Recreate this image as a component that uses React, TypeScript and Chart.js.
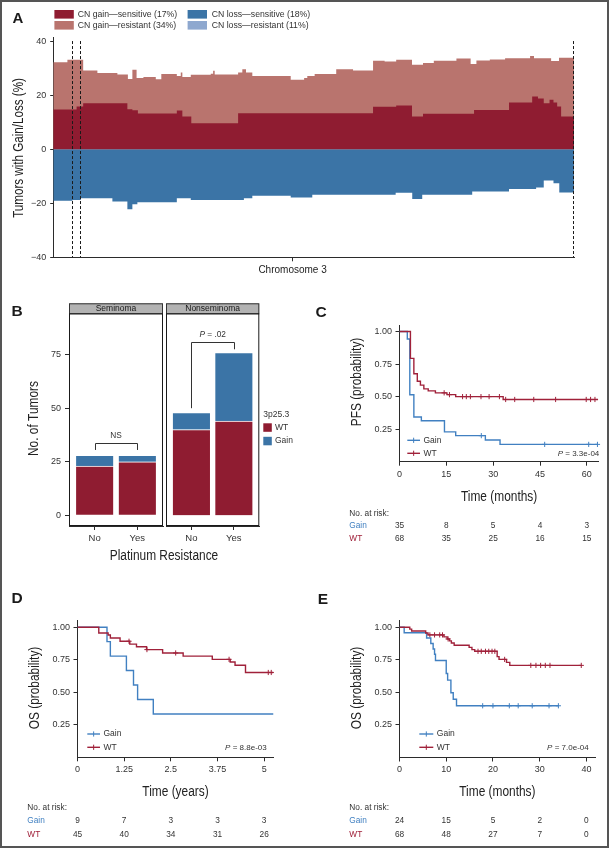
import React, { useEffect, useRef } from "react";
import { Chart, registerables } from "chart.js";

Chart.register(...registerables);

const FONT = "'Liberation Sans', Arial, Helvetica, sans-serif";
const AXIS = "#2b2b2b";
const TXT = "#333333";
const RED = "#8F1C31";
const RED_LIGHT = "#B9746E";
const BLUE = "#3B74A6";
const BLUE_LIGHT = "#8EA8CF";
const KM_RED = "#A0213A";
const KM_BLUE = "#4180C1";

// ================= Panel A: CN gain/loss along chromosome 3 =================
const chr3LengthMb = 198;
const centromereMb = 91;
const dashedMarkersMb = [7.4, 10.5, 198];
const yTicksA = [-40, -20, 0, 20, 40];
const gainTotalPosMb = [0, 5.4, 11.4, 16.8, 24.4, 28.4, 30.1, 31.7, 34.3, 39.0, 41.1, 47.0, 48.5, 49.1, 52.3, 59.9, 60.8, 61.4, 70.3, 71.9, 73.3, 75.7, 90.3, 95.4, 96.6, 99.4, 107.6, 114.0, 121.6, 126.0, 130.4, 136.4, 140.6, 144.7, 153.3, 158.7, 160.9, 166.0, 171.8, 181.3, 182.8, 189.3, 192.3, 198];
const gainTotalPct = [32.2, 33.1, 29.1, 28.2, 27.6, 26.0, 29.4, 26.3, 26.7, 25.9, 27.8, 27.1, 28.4, 26.7, 27.5, 27.9, 29.0, 27.6, 28.4, 29.6, 28.4, 27.1, 25.7, 26.3, 27.1, 27.8, 29.6, 29.1, 32.7, 32.4, 33.1, 31.2, 31.9, 32.7, 33.5, 31.5, 32.8, 33.2, 33.6, 34.5, 33.6, 32.6, 33.8, 33.8];
const gainSensPosMb = [0, 8.9, 11.4, 28.2, 30.1, 32.2, 47.0, 49.1, 52.5, 70.3, 121.6, 130.4, 136.4, 140.6, 160.0, 173.3, 182.1, 184.3, 186.5, 188.7, 190.2, 191.6, 193.1, 198];
const gainSensPct = [14.7, 15.8, 17.0, 14.8, 14.4, 13.2, 14.3, 12.1, 9.6, 13.3, 15.7, 16.2, 12.1, 13.1, 14.5, 17.3, 19.5, 18.7, 17.0, 18.3, 17.3, 15.8, 12.1, 12.1];
const lossPosMb = [0, 7.3, 10.5, 22.5, 28.2, 30.1, 32.0, 47.0, 52.3, 72.5, 75.7, 90.3, 98.5, 130.2, 136.5, 140.3, 159.3, 173.3, 183.6, 186.5, 190.2, 192.4, 198];
const lossSensPct = [-19.1, -18.8, -18.2, -19.4, -22.2, -20.4, -19.6, -18.2, -18.8, -18.2, -17.2, -17.9, -16.9, -16.1, -18.4, -16.9, -15.7, -14.7, -14.2, -11.6, -12.6, -16.0, -16.0];
const legendALabels = ["CN gain—sensitive (17%)", "CN gain—resistant (34%)", "CN loss—sensitive (18%)", "CN loss—resistant (11%)"];
const legendAColors = [RED, RED_LIGHT, BLUE, BLUE_LIGHT];

// ================= Panel B: tumors by platinum resistance =================
const resistance = ["No", "Yes"];
const seminomaWT = [23, 25];
const seminomaGain = [5, 3];
const nonseminomaWT = [40, 44];
const nonseminomaGain = [8, 32];
const yTicksB = [0, 25, 50, 75];
const nsBracket = { label: "NS", top: 33.9, left: 30.5, right: 30.5, text: 37.0 };
const pBracket = { label: "= .02", top: 80.9, left: 50.0, right: 77.5, text: 84.3 };

// ================= Panel C: PFS (months) =================
const pfsTicks = [0, 15, 30, 45, 60];
const pfsGainTime = [0, 2.5, 3.3, 4.6, 7.0, 14.4, 18.0, 27.5, 32.2, 63.6];
const pfsGainSurv = [1, 0.943, 0.514, 0.343, 0.314, 0.229, 0.2, 0.167, 0.133, 0.133];
const pfsGainCensor = [26.2, 46.5, 60.6, 63.4];
const pfsWtTime = [0, 3.5, 4.6, 5.7, 6.7, 7.8, 9.2, 11.5, 15.2, 18.0, 33.2, 63.6];
const pfsWtSurv = [1, 0.794, 0.676, 0.618, 0.588, 0.559, 0.544, 0.529, 0.515, 0.5, 0.478, 0.478];
const pfsWtCensor = [14.3, 16.0, 20.2, 21.4, 22.7, 26.1, 28.7, 32.0, 34.0, 36.9, 43.0, 50.0, 59.8, 61.2, 62.6];
const pfsRiskGain = [35, 8, 5, 4, 3];
const pfsRiskWt = [68, 35, 25, 16, 15];

// ================= Panel D: OS (years) =================
const osYTicks = [0, 1.25, 2.5, 3.75, 5];
const osYGainTime = [0, 0.79, 0.88, 1.31, 1.5, 1.61, 2.03, 5.25];
const osYGainSurv = [1, 0.889, 0.778, 0.667, 0.556, 0.444, 0.333, 0.333];
const osYGainCensor: number[] = [];
const osYWtTime = [0, 0.57, 0.82, 0.88, 1.14, 1.4, 1.58, 1.85, 2.28, 2.83, 3.61, 4.09, 4.22, 4.5, 5.25];
const osYWtSurv = [1, 0.956, 0.94, 0.917, 0.892, 0.87, 0.85, 0.828, 0.802, 0.778, 0.753, 0.732, 0.707, 0.652, 0.652];
const osYWtCensor = [1.38, 1.86, 2.63, 4.06, 5.11, 5.19];
const osYRiskGain = [9, 7, 3, 3, 3];
const osYRiskWt = [45, 40, 34, 31, 26];

// ================= Panel E: OS (months) =================
const osMTicks = [0, 10, 20, 30, 40];
const osMGainTime = [0, 1.0, 5.8, 6.7, 7.2, 7.5, 7.7, 10.0, 10.3, 11.0, 11.5, 12.2, 34.0];
const osMGainSurv = [1, 0.958, 0.917, 0.875, 0.833, 0.792, 0.745, 0.645, 0.594, 0.497, 0.447, 0.397, 0.397];
const osMGainCensor = [17.8, 20.0, 23.5, 25.4, 28.4, 32.0, 34.0];
const osMWtTime = [0, 2.2, 2.6, 5.6, 6.1, 9.5, 10.2, 10.7, 11.1, 11.7, 14.9, 15.5, 16.1, 20.9, 21.3, 22.9, 23.6, 38.9];
const osMWtSurv = [1, 0.985, 0.971, 0.956, 0.941, 0.926, 0.91, 0.895, 0.879, 0.862, 0.845, 0.828, 0.815, 0.774, 0.753, 0.73, 0.707, 0.707];
const osMWtCensor = [6.5, 7.5, 8.6, 9.2, 10.4, 16.8, 17.5, 18.4, 19.1, 19.8, 20.4, 22.5, 28.1, 29.2, 30.2, 31.2, 32.2, 38.9];
const osMRiskGain = [24, 15, 5, 2, 0];
const osMRiskWt = [68, 48, 27, 7, 0];

// ================= helpers =================
const pts = (xs: number[], ys: number[]) => xs.map((x, i) => ({ x, y: ys[i] }));
const fixedTicks = (vals: number[]) => (s: any) => {
  s.ticks = vals.map((v) => ({ value: v }));
};
const survAt = (t: number[], s: number[], x: number) => {
  let v = s[0];
  for (let i = 0; i < t.length; i++) if (t[i] <= x) v = s[i];
  return v;
};
const fmtMinus = (v: number) => (v < 0 ? "\u2212" + Math.abs(v) : String(v));

function drawText(ctx: CanvasRenderingContext2D, s: string, x: number, y: number, o: any = {}) {
  ctx.save();
  ctx.translate(x, y);
  if (o.rotate) ctx.rotate(o.rotate);
  if (o.sx) ctx.scale(o.sx, 1);
  ctx.font = `${o.italic ? "italic " : ""}${o.bold ? "bold " : ""}${o.size || 9}px ${FONT}`;
  ctx.fillStyle = o.color || TXT;
  ctx.textAlign = o.align || "left";
  ctx.textBaseline = "middle";
  ctx.fillText(s, 0, 0);
  ctx.restore();
}

// "P = value" with italic P; align 'right' or 'center'
function drawP(ctx: CanvasRenderingContext2D, rest: string, x: number, y: number, size: number, align: string) {
  ctx.save();
  ctx.font = `italic ${size}px ${FONT}`;
  const wp = ctx.measureText("P").width;
  ctx.font = `${size}px ${FONT}`;
  const wr = ctx.measureText(" " + rest).width;
  const total = wp + wr;
  const x0 = align === "right" ? x - total : x - total / 2;
  ctx.fillStyle = TXT;
  ctx.textBaseline = "middle";
  ctx.textAlign = "left";
  ctx.font = `italic ${size}px ${FONT}`;
  ctx.fillText("P", x0, y);
  ctx.font = `${size}px ${FONT}`;
  ctx.fillText(" " + rest, x0 + wp, y);
  ctx.restore();
}

const overlay = (ox: number, oy: number, draw: (chart: any, ctx: CanvasRenderingContext2D) => void) => ({
  id: "overlay",
  afterDraw(chart: any) {
    const ctx = chart.ctx;
    ctx.save();
    ctx.translate(-ox, -oy);
    draw(chart, ctx);
    ctx.restore();
  },
});

const tickFont = { family: FONT, size: 9 };
const axisGrid = { drawOnChartArea: false, drawTicks: true, tickLength: 4, color: AXIS, lineWidth: 1, offset: false };
const axisBorder = { display: true, color: AXIS, width: 1 };

// ================= Panel A config =================
function configA(ox: number, oy: number, W: number, H: number) {
  const chartL = 53.2, chartR = 574, chartT = 37.8, chartB = 257.3, xAxisH = 10;
  const area = { stepped: "before", fill: "origin", borderWidth: 0, borderColor: "rgba(0,0,0,0)", pointRadius: 0 };
  return {
    type: "line",
    data: {
      datasets: [
        { label: legendALabels[0], data: pts(gainSensPosMb, gainSensPct), backgroundColor: RED, order: 0, ...area },
        { label: legendALabels[1], data: pts(gainTotalPosMb, gainTotalPct), backgroundColor: RED_LIGHT, order: 1, ...area },
        { label: legendALabels[2], data: pts(lossPosMb, lossSensPct), backgroundColor: BLUE, order: 0, ...area },
      ],
    },
    options: {
      responsive: false,
      animation: false,
      devicePixelRatio: 1,
      layout: { padding: { left: 0, top: chartT - oy, right: ox + W - chartR, bottom: oy + H - chartB - xAxisH } },
      plugins: { legend: { display: false }, tooltip: { enabled: false } },
      scales: {
        x: {
          type: "linear", min: 0, max: chr3LengthMb, z: 1,
          afterBuildTicks: fixedTicks([centromereMb]),
          ticks: { callback: () => "", padding: 0, font: tickFont },
          grid: { ...axisGrid, tickLength: 4 },
          border: axisBorder,
          afterFit: (s: any) => { s.height = xAxisH; },
        },
        y: {
          type: "linear", min: -40, max: 41.2, z: 1,
          afterBuildTicks: fixedTicks(yTicksA),
          ticks: { callback: (v: number) => fmtMinus(v), padding: 4, font: tickFont, color: TXT },
          grid: { ...axisGrid, tickLength: 3 },
          border: axisBorder,
          afterFit: (s: any) => { s.width = chartL - ox; },
        },
      },
    },
    plugins: [
      overlay(ox, oy, (chart, ctx) => {
        const xs = chart.scales.x, ys = chart.scales.y, ca = chart.chartArea;
        ctx.save();
        ctx.strokeStyle = "#1a1a1a";
        ctx.lineWidth = 1;
        ctx.setLineDash([3, 2]);
        const yTop = ys.getPixelForValue(40) + oy;
        const yBot = ca.bottom + oy;
        dashedMarkersMb.forEach((m) => {
          const x = Math.round(xs.getPixelForValue(m) + ox) - 0.5;
          ctx.beginPath();
          ctx.moveTo(x, yTop);
          ctx.lineTo(x, yBot);
          ctx.stroke();
        });
        ctx.restore();
        drawText(ctx, "A", 18, 18.5, { size: 15, bold: true, align: "center", color: "#1a1a1a" });
        const swX = [54.4, 187.6], txX = [77.7, 211.7], rowT = [10, 21];
        legendALabels.forEach((lab, i) => {
          const col = i < 2 ? 0 : 1, row = i % 2;
          ctx.fillStyle = legendAColors[i];
          ctx.fillRect(swX[col], rowT[row], 19.4, 8.6);
          drawText(ctx, lab, txX[col], rowT[row] + 4.4, { size: 8.7 });
        });
        drawText(ctx, "Tumors with Gain/Loss (%)", 19.4, 148, { size: 14, rotate: -Math.PI / 2, sx: 0.83, align: "center", color: "#222" });
        drawText(ctx, "Chromosome 3", xs.getPixelForValue(centromereMb) + ox, 270.7, { size: 10, align: "center", color: "#222" });
      }),
    ],
  };
}

// ================= Panel B config =================
function configB(ox: number, oy: number, W: number, H: number, facet: any) {
  const chartT = 313.3, chartB = 526, xAxisH = 20;
  const { chartL, chartR, showY } = facet;
  const barOpts = { barThickness: 38.4, borderColor: "rgba(255,255,255,0.55)", borderWidth: 1, stack: "s" };
  return {
    type: "bar",
    data: {
      datasets: [
        { label: "WT", data: resistance.map((c, i) => ({ x: i + 1, y: facet.wt[i] })), backgroundColor: RED, ...barOpts },
        { label: "Gain", data: resistance.map((c, i) => ({ x: i + 1, y: facet.gain[i] })), backgroundColor: BLUE, ...barOpts },
      ],
    },
    options: {
      responsive: false,
      animation: false,
      devicePixelRatio: 1,
      layout: { padding: { left: showY ? 0 : chartL - ox, top: chartT - oy, right: ox + W - chartR, bottom: oy + H - chartB - xAxisH } },
      plugins: { legend: { display: false }, tooltip: { enabled: false } },
      scales: {
        x: {
          type: "linear", min: 0.4, max: 2.6, offset: false, stacked: true,
          afterBuildTicks: fixedTicks([1, 2]),
          ticks: { callback: (v: number) => resistance[Math.round(v) - 1], padding: 3, font: { family: FONT, size: 9.5 }, color: TXT },
          grid: axisGrid,
          border: axisBorder,
          afterFit: (s: any) => { s.height = xAxisH; },
        },
        y: {
          type: "linear", display: showY, stacked: true, min: -5, max: 94.3,
          afterBuildTicks: fixedTicks(yTicksB),
          ticks: { callback: (v: number) => String(v), padding: 4, font: tickFont, color: TXT },
          grid: axisGrid,
          border: axisBorder,
          afterFit: (s: any) => { s.width = chartL - ox; },
        },
      },
    },
    plugins: [
      overlay(ox, oy, (chart, ctx) => {
        const ca = chart.chartArea, xs = chart.scales.x, ys = chart.scales.y;
        const L = ca.left + ox, R = ca.right + ox, T = ca.top + oy, B = ca.bottom + oy;
        const X = (v: number) => xs.getPixelForValue(v) + ox;
        const Y = (v: number) => ys.getPixelForValue(v) + oy;
        ctx.save();
        ctx.fillStyle = "#b3b3b3";
        ctx.fillRect(L, T - 10, R - L, 10);
        ctx.strokeStyle = "#333";
        ctx.lineWidth = 1;
        ctx.strokeRect(L + 0.5, T - 10 + 0.5, R - L - 1, 10);
        ctx.strokeStyle = "#1a1a1a";
        ctx.strokeRect(L + 0.5, T + 0.5, R - L - 1, B - T - 1);
        const br = facet.bracket;
        ctx.strokeStyle = "#333";
        ctx.beginPath();
        ctx.moveTo(Math.round(X(1)) + 0.5, Y(br.left));
        ctx.lineTo(Math.round(X(1)) + 0.5, Math.round(Y(br.top)) + 0.5);
        ctx.lineTo(Math.round(X(2)) + 0.5, Math.round(Y(br.top)) + 0.5);
        ctx.lineTo(Math.round(X(2)) + 0.5, Y(br.right));
        ctx.stroke();
        ctx.restore();
        drawText(ctx, facet.strip, (L + R) / 2, T - 5, { size: 8.5, align: "center", color: "#1a1a1a" });
        if (br.label === "NS") drawText(ctx, "NS", X(1.5), Y(br.text), { size: 8.3, align: "center" });
        else drawP(ctx, br.label, X(1.5), Y(br.text), 8.3, "center");
        facet.extra(ctx);
      }),
    ],
  };
}

const seminomaFacet = {
  strip: "Seminoma", wt: seminomaWT, gain: seminomaGain, chartL: 69, chartR: 163, showY: true, bracket: nsBracket,
  extra: (ctx: CanvasRenderingContext2D) => {
    drawText(ctx, "B", 17, 312, { size: 15.5, bold: true, align: "center", color: "#1a1a1a" });
    drawText(ctx, "No. of Tumors", 34.3, 418.5, { size: 14, rotate: -Math.PI / 2, sx: 0.85, align: "center", color: "#222" });
    drawText(ctx, "Platinum Resistance", 164, 555.7, { size: 14, sx: 0.85, align: "center", color: "#222" });
  },
};
const nonseminomaFacet = {
  strip: "Nonseminoma", wt: nonseminomaWT, gain: nonseminomaGain, chartL: 165, chartR: 259.3, showY: false, bracket: pBracket,
  extra: (ctx: CanvasRenderingContext2D) => {
    drawText(ctx, "3p25.3", 263.3, 414.3, { size: 8.5 });
    ctx.fillStyle = RED;
    ctx.fillRect(263.3, 423.3, 8.5, 8.5);
    ctx.fillStyle = BLUE;
    ctx.fillRect(263.3, 436.8, 8.5, 8.5);
    drawText(ctx, "WT", 275, 427.6, { size: 8.5 });
    drawText(ctx, "Gain", 275, 441.1, { size: 8.5 });
  },
};

// ================= KM config =================
function configKM(ox: number, oy: number, W: number, H: number, spec: any) {
  const xAxisH = 20;
  const { chartL, chartR, chartT, chartB } = spec;
  const datasets: any[] = [];
  spec.groups.forEach((g: any) => {
    datasets.push({ label: g.label, data: pts(g.time, g.surv), stepped: "before", borderColor: g.color, borderWidth: 1.4, pointRadius: 0, fill: false });
  });
  spec.groups.forEach((g: any) => {
    datasets.push({
      label: g.label + " censored",
      data: g.censor.map((t: number) => ({ x: t, y: survAt(g.time, g.surv, t) })),
      showLine: false, pointStyle: "cross", pointRadius: 2.6, pointBorderWidth: 1,
      pointBorderColor: g.color, borderColor: g.color, clip: false,
    });
  });
  return {
    type: "line",
    data: { datasets },
    options: {
      responsive: false,
      animation: false,
      devicePixelRatio: 1,
      layout: { padding: { left: 0, top: chartT - oy, right: ox + W - chartR, bottom: oy + H - chartB - xAxisH } },
      plugins: { legend: { display: false }, tooltip: { enabled: false } },
      scales: {
        x: {
          type: "linear", min: 0, max: spec.xMax,
          afterBuildTicks: fixedTicks(spec.xTicks),
          ticks: { callback: (v: number) => String(v), padding: 3, font: tickFont, color: TXT },
          grid: axisGrid,
          border: axisBorder,
          afterFit: (s: any) => { s.height = xAxisH; },
        },
        y: {
          type: "linear", min: 0, max: 1.05,
          afterBuildTicks: fixedTicks([0.25, 0.5, 0.75, 1]),
          ticks: { callback: (v: number) => v.toFixed(2), padding: 3.5, font: tickFont, color: TXT },
          grid: axisGrid,
          border: axisBorder,
          afterFit: (s: any) => { s.width = chartL - ox; },
        },
      },
    },
    plugins: [
      overlay(ox, oy, (chart, ctx) => {
        const xs = chart.scales.x, ca = chart.chartArea;
        const X = (v: number) => xs.getPixelForValue(v) + ox;
        drawText(ctx, spec.letter, spec.letterXY[0], spec.letterXY[1], { size: 15.5, bold: true, align: "center", color: "#1a1a1a" });
        drawText(ctx, spec.yTitle, spec.yTitleXY[0], spec.yTitleXY[1], { size: 14, rotate: -Math.PI / 2, sx: 0.85, align: "center", color: "#222" });
        drawText(ctx, spec.xTitle, (ca.left + ca.right) / 2 + ox, spec.xTitleY, { size: 14, sx: 0.85, align: "center", color: "#222" });
        // legend (Gain, WT)
        const lg = spec.legend;
        spec.legendItems.forEach((it: any, i: number) => {
          const y = lg.ys[i];
          ctx.save();
          ctx.strokeStyle = it.color;
          ctx.lineWidth = 1.4;
          ctx.beginPath();
          ctx.moveTo(lg.x0, y);
          ctx.lineTo(lg.x1, y);
          ctx.stroke();
          const mx = (lg.x0 + lg.x1) / 2;
          ctx.lineWidth = 1;
          ctx.beginPath();
          ctx.moveTo(mx, y - 2.6);
          ctx.lineTo(mx, y + 2.6);
          ctx.stroke();
          ctx.restore();
          drawText(ctx, it.label, lg.x1 + 3.5, y, { size: 8.5 });
        });
        drawP(ctx, spec.pval, spec.pXY[0], spec.pXY[1], 8, "right");
        // risk table
        drawText(ctx, "No. at risk:", spec.riskX, spec.riskYs[0], { size: 8.3 });
        spec.legendItems.forEach((it: any, i: number) => {
          const y = spec.riskYs[i + 1];
          drawText(ctx, it.label, spec.riskX, y, { size: 8.3, color: it.color });
          it.risk.forEach((v: number, j: number) => drawText(ctx, String(v), X(spec.xTicks[j]), y, { size: 8.3, align: "center" }));
        });
      }),
    ],
  };
}

const specC = {
  chartL: 399.5, chartR: 598.7, chartT: 325, chartB: 461.7, xMax: 63.8, xTicks: pfsTicks,
  groups: [
    { label: "WT", color: KM_RED, time: pfsWtTime, surv: pfsWtSurv, censor: pfsWtCensor },
    { label: "Gain", color: KM_BLUE, time: pfsGainTime, surv: pfsGainSurv, censor: pfsGainCensor },
  ],
  legendItems: [
    { label: "Gain", color: KM_BLUE, risk: pfsRiskGain },
    { label: "WT", color: KM_RED, risk: pfsRiskWt },
  ],
  letter: "C", letterXY: [321, 312.5],
  yTitle: "PFS (probability)", yTitleXY: [356.7, 382],
  xTitle: "Time (months)", xTitleY: 496.7,
  legend: { x0: 407.3, x1: 420, ys: [440.3, 453.3] },
  pval: "= 3.3e-04", pXY: [599.3, 453.3],
  riskX: 349.3, riskYs: [513.3, 525.7, 538.3],
};

const specD = {
  chartL: 77.5, chartR: 273.5, chartT: 620.7, chartB: 757.3, xMax: 5.25, xTicks: osYTicks,
  groups: [
    { label: "WT", color: KM_RED, time: osYWtTime, surv: osYWtSurv, censor: osYWtCensor },
    { label: "Gain", color: KM_BLUE, time: osYGainTime, surv: osYGainSurv, censor: osYGainCensor },
  ],
  legendItems: [
    { label: "Gain", color: KM_BLUE, risk: osYRiskGain },
    { label: "WT", color: KM_RED, risk: osYRiskWt },
  ],
  letter: "D", letterXY: [17, 599],
  yTitle: "OS (probability)", yTitleXY: [35, 688],
  xTitle: "Time (years)", xTitleY: 791.7,
  legend: { x0: 87.3, x1: 100, ys: [734, 747.3] },
  pval: "= 8.8e-03", pXY: [266.7, 747.3],
  riskX: 27.3, riskYs: [807.3, 820.7, 834.7],
};

const specE = {
  chartL: 399.5, chartR: 595.3, chartT: 620.7, chartB: 757.5, xMax: 41.9, xTicks: osMTicks,
  groups: [
    { label: "WT", color: KM_RED, time: osMWtTime, surv: osMWtSurv, censor: osMWtCensor },
    { label: "Gain", color: KM_BLUE, time: osMGainTime, surv: osMGainSurv, censor: osMGainCensor },
  ],
  legendItems: [
    { label: "Gain", color: KM_BLUE, risk: osMRiskGain },
    { label: "WT", color: KM_RED, risk: osMRiskWt },
  ],
  letter: "E", letterXY: [323, 600],
  yTitle: "OS (probability)", yTitleXY: [356.7, 688],
  xTitle: "Time (months)", xTitleY: 791.7,
  legend: { x0: 419.3, x1: 433.3, ys: [734, 747.3] },
  pval: "= 7.0e-04", pXY: [588.7, 747.3],
  riskX: 349.3, riskYs: [807.3, 820.7, 834.7],
};

function ChartCanvas({ left, top, width, height, make }: any) {
  const ref = useRef<HTMLCanvasElement>(null);
  useEffect(() => {
    const chart = new Chart(ref.current as HTMLCanvasElement, make(left, top, width, height) as any);
    return () => chart.destroy();
  }, []);
  return <canvas ref={ref} width={width} height={height} style={{ position: "absolute", left, top, width, height }} />;
}

export default function App() {
  return (
    <div style={{ position: "absolute", left: 0, top: 0, width: 609, height: 848, background: "#fff", overflow: "hidden" }}>
      <ChartCanvas left={0} top={0} width={609} height={285} make={configA} />
      <ChartCanvas left={0} top={290} width={320} height={280} make={(ox: number, oy: number, W: number, H: number) => configB(ox, oy, W, H, seminomaFacet)} />
      <ChartCanvas left={164} top={290} width={156} height={280} make={(ox: number, oy: number, W: number, H: number) => configB(ox, oy, W, H, nonseminomaFacet)} />
      <ChartCanvas left={310} top={295} width={299} height={255} make={(ox: number, oy: number, W: number, H: number) => configKM(ox, oy, W, H, specC)} />
      <ChartCanvas left={0} top={585} width={300} height={263} make={(ox: number, oy: number, W: number, H: number) => configKM(ox, oy, W, H, specD)} />
      <ChartCanvas left={300} top={585} width={309} height={263} make={(ox: number, oy: number, W: number, H: number) => configKM(ox, oy, W, H, specE)} />
      <div style={{ position: "absolute", left: 0, top: 0, width: 609, height: 848, border: "2px solid #555", boxSizing: "border-box", pointerEvents: "none" }} />
    </div>
  );
}
